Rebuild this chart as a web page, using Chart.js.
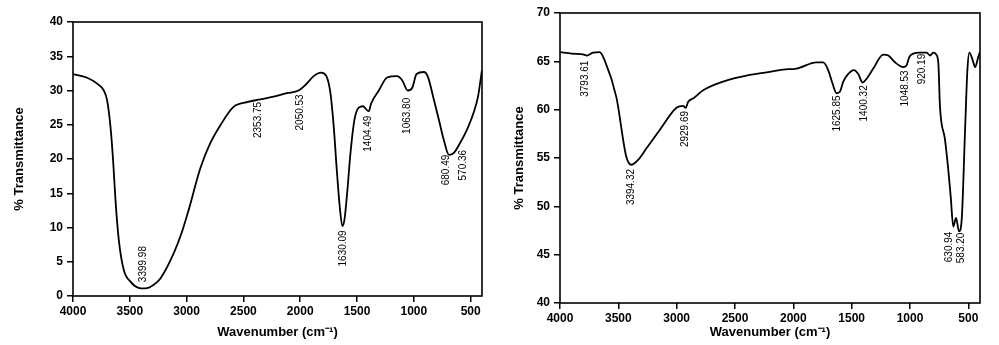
<!DOCTYPE html>
<html>
<head>
<meta charset="utf-8">
<script src="https://cdn.jsdelivr.net/npm/chart.js@4.4.1/dist/chart.umd.min.js"></script>
<style>
  html, body { margin: 0; padding: 0; background: #fff; }
  .box { position: absolute; top: 0; height: 345px; }
  #boxA { left: 0; width: 500px; }
  #boxB { left: 500px; width: 499px; }
</style>
</head>
<body>
<div class="box" id="boxA"><canvas id="chartA"></canvas></div>
<div class="box" id="boxB"><canvas id="chartB"></canvas></div>
<script>
// Spektrum links (Wellenzahl, % Transmission)
const wnA = [4000, 3880, 3788, 3729, 3700, 3670, 3647, 3626, 3597, 3553, 3494, 3424, 3365, 3292, 3229, 3112, 3042, 2983, 2880, 2792, 2704, 2587, 2469, 2351, 2234, 2116, 2014, 1955, 1881, 1817, 1770, 1734, 1705, 1676, 1652, 1629, 1611, 1587, 1558, 1523, 1485, 1446, 1411, 1396, 1376, 1308, 1235, 1147, 1103, 1053, 1014, 976, 912, 876, 823, 779, 735, 691, 647, 594, 529, 471, 435, 413, 400];
const tA = [32.4, 31.9, 31.0, 30.0, 28.6, 24.7, 19.8, 14.0, 8.2, 3.8, 2.1, 1.2, 1.1, 1.6, 2.6, 6.3, 9.3, 12.5, 18.6, 22.3, 24.9, 27.6, 28.3, 28.7, 29.1, 29.6, 30.0, 30.8, 32.1, 32.6, 32.1, 29.6, 24.7, 17.9, 13.0, 10.2, 11.1, 15.0, 20.8, 25.7, 27.5, 27.7, 27.1, 27.0, 28.1, 30.0, 31.9, 32.1, 31.5, 30.0, 30.4, 32.4, 32.7, 32.0, 28.6, 25.7, 22.7, 20.6, 20.9, 22.3, 24.4, 26.9, 29.1, 31.5, 33.0];

// Spektrum rechts
const wnB = [4000, 3900, 3803, 3768, 3717, 3660, 3617, 3517, 3431, 3388, 3331, 3259, 3145, 3002, 2945, 2922, 2902, 2853, 2773, 2602, 2373, 2258, 2087, 1973, 1801, 1744, 1701, 1664, 1629, 1601, 1572, 1529, 1481, 1444, 1406, 1372, 1315, 1229, 1186, 1129, 1057, 1029, 1006, 972, 915, 857, 829, 800, 775, 757, 743, 700, 672, 651, 629, 605, 580, 557, 528, 508, 491, 462, 442, 414, 400];
const tB = [65.95, 65.8, 65.73, 65.6, 65.9, 65.95, 65.1, 61.3, 55.1, 54.3, 54.8, 56.0, 57.9, 60.2, 60.4, 60.2, 60.8, 61.2, 62.0, 62.9, 63.6, 63.8, 64.15, 64.25, 64.9, 64.9, 64.1, 62.7, 61.7, 61.85, 62.9, 63.7, 64.1, 63.7, 62.8, 63.2, 64.25, 65.7, 65.6, 64.9, 64.4, 64.6, 65.45, 65.8, 65.9, 65.9, 65.6, 65.9, 65.7, 64.8, 60.3, 56.9, 53.8, 51.0, 47.9, 48.8, 47.4, 48.6, 57.9, 64.1, 65.9, 65.1, 64.4, 65.5, 66.0];

// Peak-Beschriftungen (Text, Wellenzahl, Höhe der Textmitte)
const peakTextA = ['3399.98', '2353.75', '2050.53', '1630.09', '1404.49', '1063.80', '680.49', '570.36'];
const peakXA = [3383, 2369, 2001, 1619, 1399, 1060, 716, 561];
const peakYA = [4.66, 25.7, 26.8, 6.95, 23.7, 26.3, 18.4, 19.1];

const peakTextB = ['3793.61', '3394.32', '2929.69', '1625.85', '1400.32', '1048.53', '920.19', '630.94', '583.20'];
const peakXB = [3780, 3393, 2924, 1624, 1395, 1043, 891, 660, 562];
const peakYB = [63.2, 52.0, 58.0, 59.6, 60.65, 62.2, 64.2, 45.8, 45.7];

const xTicks = [4000, 3500, 3000, 2500, 2000, 1500, 1000, 500];

// Rahmen um die Zeichenfläche und gedrehte Peak-Texte
const framePlugin = {
    id: 'frame',
    afterDatasetsDraw(chart, args, opts) {
        const ctx = chart.ctx;
        const a = chart.chartArea;
        const xs = chart.scales.x;
        const ys = chart.scales.y;
        ctx.save();
        ctx.strokeStyle = '#000';
        ctx.lineWidth = 1.6;
        ctx.strokeRect(a.left, a.top, a.right - a.left, a.bottom - a.top);
        ctx.fillStyle = '#000';
        ctx.font = '10px "Liberation Sans", Arial, sans-serif';
        ctx.textAlign = 'center';
        ctx.textBaseline = 'middle';
        opts.texts.forEach((t, i) => {
            const px = xs.getPixelForValue(opts.xs[i]);
            const py = ys.getPixelForValue(opts.ys[i]);
            ctx.save();
            ctx.translate(px, py);
            ctx.rotate(-Math.PI / 2);
            ctx.fillText(t, 0, 0);
            ctx.restore();
        });
        ctx.restore();
    }
};

function createSpectrum(canvasId, wn, t, yMin, yMax, yStep, yAxisWidth, xAxisHeight, pad, peaks) {
    const ctx = document.getElementById(canvasId).getContext('2d');
    const points = wn.map((w, i) => ({ x: w, y: t[i] }));
    const tickFont = { family: '"Liberation Sans", Arial, sans-serif', size: 12, weight: 'bold' };
    const titleFont = { family: '"Liberation Sans", Arial, sans-serif', size: 13, weight: 'bold' };

    return new Chart(ctx, {
        type: 'line',
        data: {
            datasets: [{
                data: points,
                borderColor: '#000',
                borderWidth: 1.8,
                pointRadius: 0,
                fill: false,
                cubicInterpolationMode: 'monotone'
            }]
        },
        options: {
            responsive: true,
            maintainAspectRatio: false,
            animation: false,
            layout: { padding: pad },
            plugins: {
                legend: { display: false },
                tooltip: { enabled: false },
                frame: peaks
            },
            scales: {
                x: {
                    type: 'linear',
                    reverse: true,
                    min: 400,
                    max: 4000,
                    afterBuildTicks: (s) => { s.ticks = xTicks.map(v => ({ value: v })); },
                    afterFit: (s) => { s.height = xAxisHeight; },
                    grid: { display: true, drawOnChartArea: false, tickLength: 6, color: '#000', lineWidth: 1.5 },
                    border: { display: false },
                    ticks: { color: '#000', font: tickFont, padding: 2, maxRotation: 0, callback: (v) => String(v) },
                    title: { display: true, text: 'Wavenumber (cm\u207B\u00B9)', color: '#000', font: titleFont, padding: { top: 0, bottom: 5 } }
                },
                y: {
                    min: yMin,
                    max: yMax,
                    afterFit: (s) => { s.width = yAxisWidth; },
                    grid: { display: true, drawOnChartArea: false, tickLength: 6, color: '#000', lineWidth: 1.5 },
                    border: { display: false },
                    ticks: { stepSize: yStep, color: '#000', font: tickFont, padding: 4, callback: (v) => String(v) },
                    title: { display: true, text: '% Transmittance', color: '#000', font: titleFont, padding: { top: 12, bottom: 0 } }
                }
            }
        },
        plugins: [framePlugin]
    });
}

createSpectrum('chartA', wnA, tA, 0, 40, 5, 73, 49,
    { top: 22, right: 18, bottom: 0, left: 0 },
    { texts: peakTextA, xs: peakXA, ys: peakYA });

createSpectrum('chartB', wnB, tB, 40, 70, 5, 60, 42,
    { top: 13, right: 19, bottom: 0, left: 0 },
    { texts: peakTextB, xs: peakXB, ys: peakYB });
</script>
</body>
</html>
